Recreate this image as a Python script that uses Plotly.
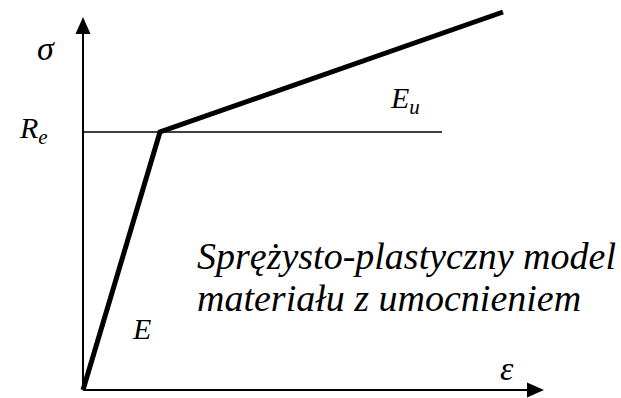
import plotly.graph_objects as go

# Bilinear (elastic - linear hardening) stress-strain model, schematic units
strain = [0, 77, 420]          # origin, yield point, end of hardening branch
stress = [0, 258, 378]
yield_stress = 258             # R_e level
re_line_end = 359              # extent of the horizontal R_e reference line
x_axis_len = 461               # strain axis length (arrow tip)
y_axis_len = 373               # stress axis length (arrow tip)

SERIF = "Liberation Serif"
INK = "black"

fig = go.Figure()

# axes
fig.add_trace(go.Scatter(x=[0, x_axis_len - 14], y=[0, 0], mode="lines",
                         line=dict(color=INK, width=2), hoverinfo="skip"))
fig.add_trace(go.Scatter(x=[0, 0], y=[0, y_axis_len - 14], mode="lines",
                         line=dict(color=INK, width=2), hoverinfo="skip"))
# yield stress reference line
fig.add_trace(go.Scatter(x=[0, re_line_end], y=[yield_stress, yield_stress], mode="lines",
                         line=dict(color=INK, width=1.6), hoverinfo="skip"))
# material curve
fig.add_trace(go.Scatter(x=strain, y=stress, mode="lines",
                         line=dict(color=INK, width=5), hoverinfo="skip"))

# arrow heads
ah_len, ah_half = 17, 7.5
fig.add_shape(type="path", xref="x", yref="y", fillcolor=INK, line=dict(width=0),
              path=f"M {x_axis_len},0 L {x_axis_len-ah_len},{ah_half} L {x_axis_len-ah_len},{-ah_half} Z")
fig.add_shape(type="path", xref="x", yref="y", fillcolor=INK, line=dict(width=0),
              path=f"M 0,{y_axis_len} L {ah_half},{y_axis_len-ah_len} L {-ah_half},{y_axis_len-ah_len} Z")


def label(x, y, text, size=30, xanchor="center", yanchor="middle"):
    fig.add_annotation(x=x, y=y, xref="x", yref="y", text=text, showarrow=False,
                       xanchor=xanchor, yanchor=yanchor,
                       font=dict(family=SERIF, size=size, color=INK))


label(-37, 342, "<i>σ</i>", size=34)
label(-50, yield_stress + 2, "<i>R</i><sub><i>e</i></sub>")
label(322, 290, "<i>E</i><sub><i>u</i></sub>")
label(58, 62, "<i>E</i>")
label(424, 22, "<i>ε</i>", size=34)

label(112, 111, "<i>Sprężysto-plastyczny model</i>", size=38, xanchor="left", yanchor="bottom")
label(112, 69, "<i>materiału z umocnieniem</i>", size=38, xanchor="left", yanchor="bottom")

fig.update_layout(
    width=621, height=398,
    margin=dict(l=0, r=0, t=0, b=0),
    paper_bgcolor="white", plot_bgcolor="white",
    font=dict(family=SERIF, color=INK),
    showlegend=False,
    xaxis=dict(range=[-83, 538], visible=False, fixedrange=True),
    yaxis=dict(range=[-8, 390], visible=False, fixedrange=True),
)

fig.write_html("out.html")
